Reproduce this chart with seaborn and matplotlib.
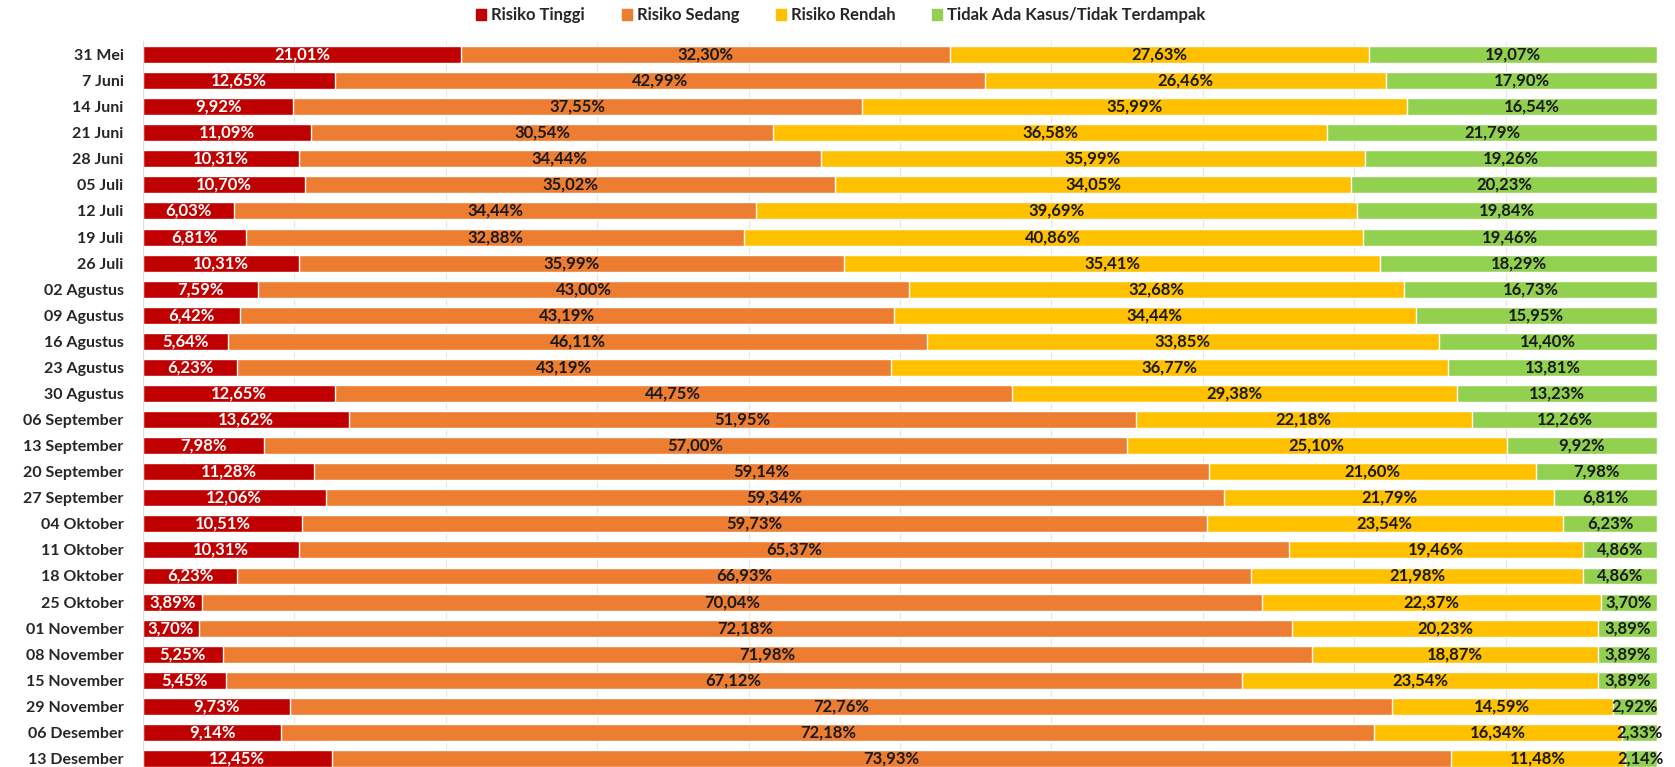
import numpy as np
import pandas as pd
import seaborn as sns
import matplotlib.pyplot as plt

# data (percent of areas per risk zone)
dates = [
    "31 Mei", "7 Juni", "14 Juni", "21 Juni", "28 Juni", "05 Juli", "12 Juli",
    "19 Juli", "26 Juli", "02 Agustus", "09 Agustus", "16 Agustus", "23 Agustus",
    "30 Agustus", "06 September", "13 September", "20 September", "27 September",
    "04 Oktober", "11 Oktober", "18 Oktober", "25 Oktober", "01 November",
    "08 November", "15 November", "29 November", "06 Desember", "13 Desember",
]
tinggi = [21.01, 12.65, 9.92, 11.09, 10.31, 10.70, 6.03, 6.81, 10.31, 7.59,
          6.42, 5.64, 6.23, 12.65, 13.62, 7.98, 11.28, 12.06, 10.51, 10.31,
          6.23, 3.89, 3.70, 5.25, 5.45, 9.73, 9.14, 12.45]
sedang = [32.30, 42.99, 37.55, 30.54, 34.44, 35.02, 34.44, 32.88, 35.99, 43.00,
          43.19, 46.11, 43.19, 44.75, 51.95, 57.00, 59.14, 59.34, 59.73, 65.37,
          66.93, 70.04, 72.18, 71.98, 67.12, 72.76, 72.18, 73.93]
rendah = [27.63, 26.46, 35.99, 36.58, 35.99, 34.05, 39.69, 40.86, 35.41, 32.68,
          34.44, 33.85, 36.77, 29.38, 22.18, 25.10, 21.60, 21.79, 23.54, 19.46,
          21.98, 22.37, 20.23, 18.87, 23.54, 14.59, 16.34, 11.48]
tidak = [19.07, 17.90, 16.54, 21.79, 19.26, 20.23, 19.84, 19.46, 18.29, 16.73,
         15.95, 14.40, 13.81, 13.23, 12.26, 9.92, 7.98, 6.81, 6.23, 4.86,
         4.86, 3.70, 3.89, 3.89, 3.89, 2.92, 2.33, 2.14]

series = ["Risiko Tinggi", "Risiko Sedang", "Risiko Rendah", "Tidak Ada Kasus/Tidak Terdampak"]
colors = ["#C00000", "#ED7D31", "#FFC000", "#92D050"]
text_colors = ["white", "#1a1a1a", "#1a1a1a", "#1a1a1a"]

df = pd.DataFrame({"Tanggal": dates, series[0]: tinggi, series[1]: sedang,
                   series[2]: rendah, series[3]: tidak})
cum = df[series].cumsum(axis=1)

sns.set_style("white")
plt.rcParams["font.family"] = ["Lato", "DejaVu Sans"]

fig = plt.figure(figsize=(16.75, 7.67), dpi=100)
ax = fig.add_axes([0.0854, -0.0059, 0.9039, 0.9518])

# stacked bars: draw cumulative totals from the longest to the shortest
for name, col in reversed(list(zip(series, colors))):
    sns.barplot(x=cum[name], y=df["Tanggal"], orient="h", color=col,
                saturation=1, width=0.65, errorbar=None, ax=ax, zorder=2)

# centred segment labels
for name, tc in zip(series, text_colors):
    mids = cum[name] - df[name] / 2
    for i, (m, v) in enumerate(zip(mids, df[name])):
        ax.text(m, i, f"{v:.2f}%".replace(".", ","), ha="center", va="center",
                color=tc, fontsize=12, fontweight="bold", zorder=3)

ax.set_xlim(0, 100)
ax.set_ylim(len(dates) - 0.5, -0.5)
ax.set_xticks(np.arange(0, 101, 10))
ax.set_xticklabels([])
ax.tick_params(axis="x", length=0)
ax.tick_params(axis="y", length=0, pad=14)
ax.xaxis.grid(True, color="#E6E6E6", linewidth=0.8, zorder=0)
ax.set_axisbelow(True)
for lbl in ax.get_yticklabels():
    lbl.set_fontweight("bold")
    lbl.set_fontsize(11.5)
ax.set_xlabel("")
ax.set_ylabel("")
for s in ["top", "right", "bottom"]:
    ax.spines[s].set_visible(False)
ax.spines["left"].set_color("#E0E0E0")

handles = [plt.Rectangle((0, 0), 1, 1, color=c) for c in colors]
fig.legend(handles, series, loc="center", bbox_to_anchor=(0.502, 0.980),
           ncol=4, frameon=False, handlelength=0.6, handleheight=0.6,
           handletextpad=0.3, columnspacing=2.2,
           prop={"weight": "bold", "size": 12})

fig.savefig("out.png", dpi=100)
plt.close(fig)
